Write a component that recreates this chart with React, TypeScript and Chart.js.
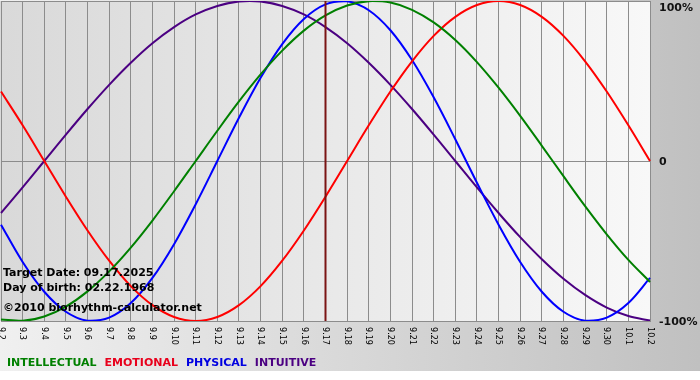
import React, { useEffect, useRef } from "react";
import { Chart, registerables } from "chart.js";

Chart.register(...registerables);

const dateLabels = [
  "9.2", "9.3", "9.4", "9.5", "9.6", "9.7", "9.8", "9.9", "9.10", "9.11",
  "9.12", "9.13", "9.14", "9.15", "9.16", "9.17", "9.18", "9.19", "9.20", "9.21",
  "9.22", "9.23", "9.24", "9.25", "9.26", "9.27", "9.28", "9.29", "9.30", "10.1", "10.2",
];

const intellectual = [
  -99.0, -99.9, -97.2, -91.0, -81.5, -69.0, -54.1, -37.2, -18.9, 0, 18.9, 37.2, 54.1, 69.0, 81.5, 91.0,
  97.2, 99.9, 99.0, 94.5, 86.6, 75.6, 61.8, 45.8, 28.2, 9.5, -9.5, -28.2, -45.8, -61.8, -75.6,
];
const emotional = [
  43.4, 22.3, 0, -22.3, -43.4, -62.3, -78.2, -90.1, -97.5, -100, -97.5, -90.1, -78.2, -62.3, -43.4, -22.3,
  0, 22.3, 43.4, 62.3, 78.2, 90.1, 97.5, 100, 97.5, 90.1, 78.2, 62.3, 43.4, 22.3, 0,
];
const physical = [
  -39.8, -63.1, -81.7, -94.2, -99.8, -97.9, -88.8, -73.1, -52.0, -27.0, 0, 27.0, 52.0, 73.1, 88.8, 97.9,
  99.8, 94.2, 81.7, 63.1, 39.8, 13.6, -13.6, -39.8, -63.1, -81.7, -94.2, -99.8, -97.9, -88.8, -73.1,
];
const intuitive = [
  -32.5, -16.5, 0, 16.5, 32.5, 47.6, 61.4, 73.6, 83.7, 91.6, 96.9, 99.7, 99.7, 96.9, 91.6, 83.7,
  73.6, 61.4, 47.6, 32.5, 16.5, 0, -16.5, -32.5, -47.6, -61.4, -73.6, -83.7, -91.6, -96.9, -99.7,
];

const seriesNames = ["INTELLECTUAL", "EMOTIONAL", "PHYSICAL", "INTUITIVE"];
const seriesColors = ["#008000", "#ff0000", "#0000ff", "#4b0082"];
const legendColors = ["#008000", "#e8001c", "#0000e0", "#4b0082"];

const yTickValues = [100, 0, -100];
const yTickLabels = ["100%", "0", "-100%"];
const targetLabel = "9.17";
const infoLines = [
  "Target Date: 09.17.2025",
  "Day of birth: 02.22.1968",
  "\u00A92010 biorhythm-calculator.net",
];

const backgroundPlugin = {
  id: "bgPlugin",
  beforeDraw(chart: any) {
    const { ctx, width, height, chartArea } = chart;
    ctx.save();
    ctx.fillStyle = "#ffffff";
    ctx.fillRect(0, 0, width, height);
    const g = ctx.createLinearGradient(0, 0, width, 0);
    g.addColorStop(0, "#f0f0f0");
    g.addColorStop(1, "#c0c0c0");
    ctx.fillStyle = g;
    ctx.fillRect(0, 0, width, 371);
    const g2 = ctx.createLinearGradient(chartArea.left, 0, chartArea.right, 0);
    g2.addColorStop(0, "#d9d9d9");
    g2.addColorStop(1, "#f8f8f8");
    ctx.fillStyle = g2;
    ctx.fillRect(0, chartArea.top, chartArea.right, chartArea.bottom - chartArea.top);
    ctx.restore();
  },
};

const targetPlugin = {
  id: "targetPlugin",
  afterDatasetsDraw(chart: any) {
    const { ctx, chartArea, scales } = chart;
    const x = scales.x.getPixelForValue(dateLabels.indexOf(targetLabel));
    ctx.save();
    ctx.strokeStyle = "#7a1414";
    ctx.lineWidth = 2;
    ctx.beginPath();
    ctx.moveTo(x, chartArea.top);
    ctx.lineTo(x, chartArea.bottom);
    ctx.stroke();
    ctx.restore();
  },
};

const textPlugin = {
  id: "textPlugin",
  afterDraw(chart: any) {
    const { ctx, chartArea, scales } = chart;
    ctx.save();
    // x tick labels, rotated clockwise
    ctx.fillStyle = "#000";
    ctx.font = "9px 'DejaVu Sans Condensed', 'Liberation Sans', sans-serif";
    ctx.textAlign = "left";
    ctx.textBaseline = "middle";
    dateLabels.forEach((lab, i) => {
      const x = scales.x.getPixelForValue(i);
      ctx.save();
      ctx.translate(x, chartArea.bottom + 6);
      ctx.rotate(Math.PI / 2);
      ctx.fillText(lab, 0, 0);
      ctx.restore();
    });
    // y tick labels on right
    ctx.font = "bold 11px 'DejaVu Sans', sans-serif";
    ctx.fillStyle = "#111";
    yTickValues.forEach((v, i) => {
      let y = scales.y.getPixelForValue(v);
      if (i === 0) y += 6;
      ctx.fillText(yTickLabels[i], chartArea.right + 9, y + 1);
    });
    // info text
    ctx.textBaseline = "alphabetic";
    ctx.fillStyle = "#000";
    const infoY = [276, 291, 311];
    infoLines.forEach((t, i) => ctx.fillText(t, 3, infoY[i]));
    // legend
    let lx = 7;
    seriesNames.forEach((n, i) => {
      ctx.fillStyle = legendColors[i];
      ctx.fillText(n, lx, 366);
      lx += ctx.measureText(n).width + 8;
    });
    ctx.restore();
  },
};

export default function App() {
  const canvasRef = useRef<HTMLCanvasElement | null>(null);

  useEffect(() => {
    if (!canvasRef.current) return;
    const seriesData = [intellectual, emotional, physical, intuitive];
    const chart = new Chart(canvasRef.current, {
      type: "line",
      data: {
        labels: dateLabels,
        datasets: seriesNames.map((n, i) => ({
          label: n,
          data: seriesData[i],
          borderColor: seriesColors[i],
          backgroundColor: seriesColors[i],
          borderWidth: 2,
          pointRadius: 0,
          tension: 0.34,
          fill: false,
        })),
      },
      options: {
        responsive: false,
        animation: false,
        layout: { padding: { left: 1, top: 1, right: 50, bottom: 59 } },
        plugins: { legend: { display: false }, tooltip: { enabled: false } },
        scales: {
          x: {
            offset: false,
            grid: { color: "#8c8c8c", lineWidth: 1, drawTicks: false },
            border: { color: "#8c8c8c" },
            ticks: { display: false },
          },
          y: {
            min: -100,
            max: 100,
            grid: { color: "#8c8c8c", lineWidth: 1, drawTicks: false },
            border: { color: "#8c8c8c" },
            ticks: { display: false, stepSize: 100 },
          },
        },
      },
      plugins: [backgroundPlugin, targetPlugin, textPlugin],
    });
    return () => chart.destroy();
  }, []);

  return (
    <div style={{ position: "fixed", left: 0, top: 0, width: 700, height: 380 }}>
      <canvas ref={canvasRef} width={700} height={380} style={{ display: "block" }} />
    </div>
  );
}
